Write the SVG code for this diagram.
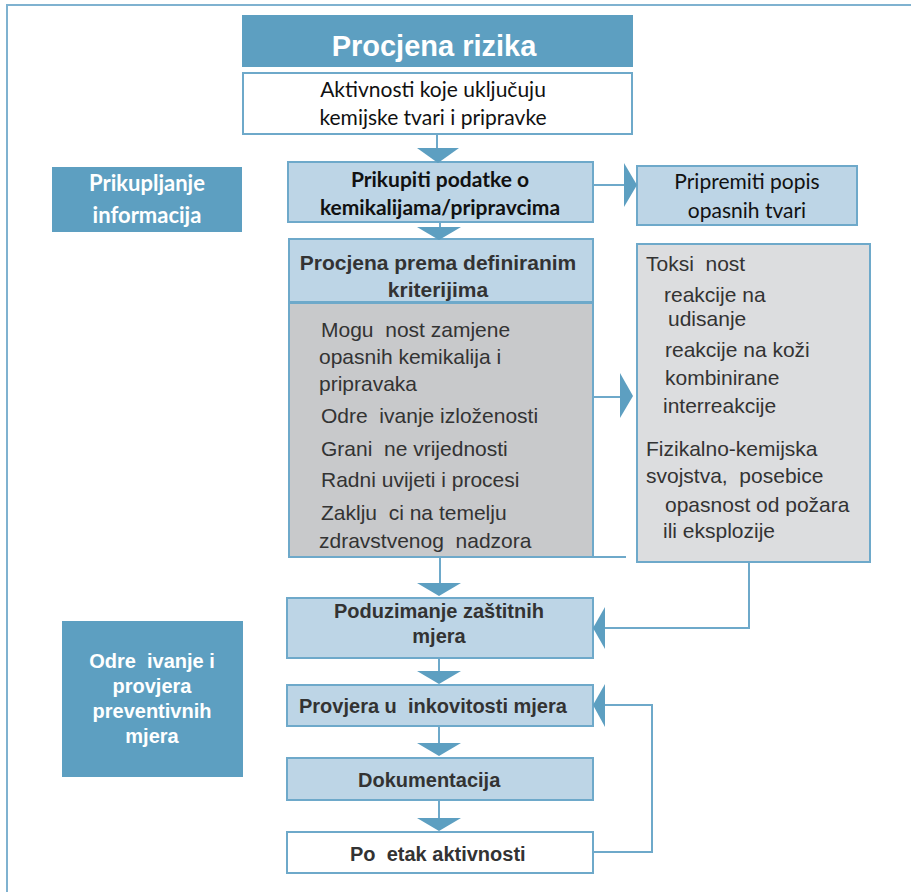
<svg xmlns="http://www.w3.org/2000/svg" width="911" height="892" viewBox="0 0 911 892" xml:space="preserve">
<style>
text{white-space:pre}
.frame{stroke:#7fb2d0;stroke-width:2;fill:none}
.dark{fill:#5d9fc1}
.lb{fill:#bdd5e6;stroke:#6ea9ca;stroke-width:2}
.wb{fill:#ffffff;stroke:#6ea9ca;stroke-width:2}
.gb{fill:#c8c9cb;stroke:#6ea9ca;stroke-width:2}
.gb2{fill:#dcdddf;stroke:#6ea9ca;stroke-width:2}
.ln{stroke:#6ea9ca;stroke-width:2;fill:none}
.ah{fill:#5d9fc1}
.cal{font-family:Lato,"Open Sans","Liberation Sans",sans-serif;font-size:21px;fill:#111}
.calb{font-family:Lato,"Open Sans","Liberation Sans",sans-serif;font-size:21px;font-weight:bold;fill:#111}
.ar{font-family:"Liberation Sans",Arial,sans-serif;font-size:21px;fill:#333}
.arb{font-family:"Liberation Sans",Arial,sans-serif;font-size:20px;font-weight:bold;fill:#333}
.wt{fill:#ffffff;font-weight:bold}
.mid{text-anchor:middle}
</style>
<path class="frame" d="M7,892 V5 H911"/>
<g id="title">
<rect class="dark" x="242" y="15" width="391" height="52"/>
<text x="434" y="56" class="mid" style="font-family:'Liberation Sans',Arial,sans-serif;font-size:29px;font-weight:bold;fill:#fff">Procjena rizika</text>
</g>
<g id="aktivnosti">
<rect class="wb" x="243" y="73" width="389" height="61"/>
<text class="cal mid" x="433" y="97">Aktivnosti koje uključuju</text>
<text class="cal mid" x="433" y="125">kemijske tvari i pripravke</text>
</g>
<g id="prikupljanje-informacija">
<rect class="dark" x="52" y="167" width="190" height="65"/>
<text class="calb wt mid" x="147" y="191" style="font-size:22px">Prikupljanje</text>
<text class="calb wt mid" x="147" y="223" style="font-size:22px">informacija</text>
</g>
<g id="prikupiti">
<rect class="lb" x="288" y="162" width="305" height="60"/>
<text class="calb mid" x="440" y="187">Prikupiti podatke o</text>
<text class="calb mid" x="440" y="215">kemikalijama/pripravcima</text>
</g>
<g id="pripremiti">
<rect class="lb" x="637" y="166" width="220" height="59"/>
<text class="cal mid" x="747" y="189">Pripremiti popis</text>
<text class="cal mid" x="747" y="218">opasnih tvari</text>
</g>
<g id="procjena-kriteriji">
<rect class="lb" x="289" y="239" width="304" height="63"/>
<text class="arb mid" x="438" y="270" style="font-size:21px">Procjena prema definiranim</text>
<text class="arb mid" x="438" y="297" style="font-size:21px">kriterijima</text>
</g>
<g id="kriteriji-lista">
<rect class="gb" x="289" y="303" width="304" height="254"/>
<text class="ar" x="321" y="337">Mogu  nost zamjene</text>
<text class="ar" x="319" y="364">opasnih kemikalija i</text>
<text class="ar" x="319" y="391">pripravaka</text>
<text class="ar" x="321" y="423">Odre  ivanje izloženosti</text>
<text class="ar" x="321" y="456">Grani  ne vrijednosti</text>
<text class="ar" x="321" y="487">Radni uvijeti i procesi</text>
<text class="ar" x="321" y="520">Zaklju  ci na temelju</text>
<text class="ar" x="319" y="548">zdravstvenog  nadzora</text>
</g>
<g id="toksicnost">
<rect class="gb2" x="637" y="244" width="233" height="318"/>
<text class="ar" x="646" y="271">Toksi  nost</text>
<text class="ar" x="664" y="302">reakcije na</text>
<text class="ar" x="668" y="326">udisanje</text>
<text class="ar" x="665" y="357">reakcije na koži</text>
<text class="ar" x="665" y="385">kombinirane</text>
<text class="ar" x="663" y="413">interreakcije</text>
<text class="ar" x="646" y="456">Fizikalno-kemijska</text>
<text class="ar" x="646" y="483">svojstva,  posebice</text>
<text class="ar" x="665" y="512">opasnost od požara</text>
<text class="ar" x="663" y="538">ili eksplozije</text>
</g>
<g id="odredivanje-provjera">
<rect class="dark" x="62" y="621" width="181" height="156"/>
<text class="arb wt mid" x="152" y="668">Odre  ivanje i</text>
<text class="arb wt mid" x="152" y="693">provjera</text>
<text class="arb wt mid" x="152" y="718">preventivnih</text>
<text class="arb wt mid" x="152" y="743">mjera</text>
</g>
<g id="poduzimanje">
<rect class="lb" x="287" y="598" width="306" height="60"/>
<text class="arb mid" x="439" y="618">Poduzimanje zaštitnih</text>
<text class="arb mid" x="439" y="643">mjera</text>
</g>
<g id="provjera">
<rect class="lb" x="287" y="685" width="306" height="41"/>
<text class="arb" x="299" y="713">Provjera u  inkovitosti mjera</text>
</g>
<g id="dokumentacija">
<rect class="lb" x="287" y="758" width="306" height="42"/>
<text class="arb" x="358" y="787">Dokumentacija</text>
</g>
<g id="pocetak">
<rect class="wb" x="287" y="832" width="306" height="41"/>
<text class="arb" x="350" y="861">Po  etak aktivnosti</text>
</g>
<g id="connectors">
<path class="ln" d="M437,134 V148"/>
<polygon class="ah" points="417,148 459,148 438,163"/>
<path class="ln" d="M440,222 V228"/>
<polygon class="ah" points="417,227 461,227 439,240"/>
<path class="ln" d="M593,185 H625"/>
<polygon class="ah" points="624,163 637,185 624,207"/>
<path class="ln" d="M593,397 H621"/>
<polygon class="ah" points="620,373 633,396 620,418"/>
<path class="ln" d="M593,557 H626"/>
<path class="ln" d="M440,557 V583"/>
<polygon class="ah" points="417,583 461,583 439,596"/>
<path class="ln" d="M749,562 V628 H604"/>
<polygon class="ah" points="605,607 593,628 605,649"/>
<path class="ln" d="M439,658 V672"/>
<polygon class="ah" points="417,671 461,671 439,684"/>
<path class="ln" d="M439,726 V744"/>
<polygon class="ah" points="417,743 461,743 439,756"/>
<path class="ln" d="M439,800 V819"/>
<polygon class="ah" points="417,818 461,818 439,831"/>
<path class="ln" d="M593,852 H652 V705 H604"/>
<polygon class="ah" points="605,684 593,705 605,727"/>
</g>
</svg>
